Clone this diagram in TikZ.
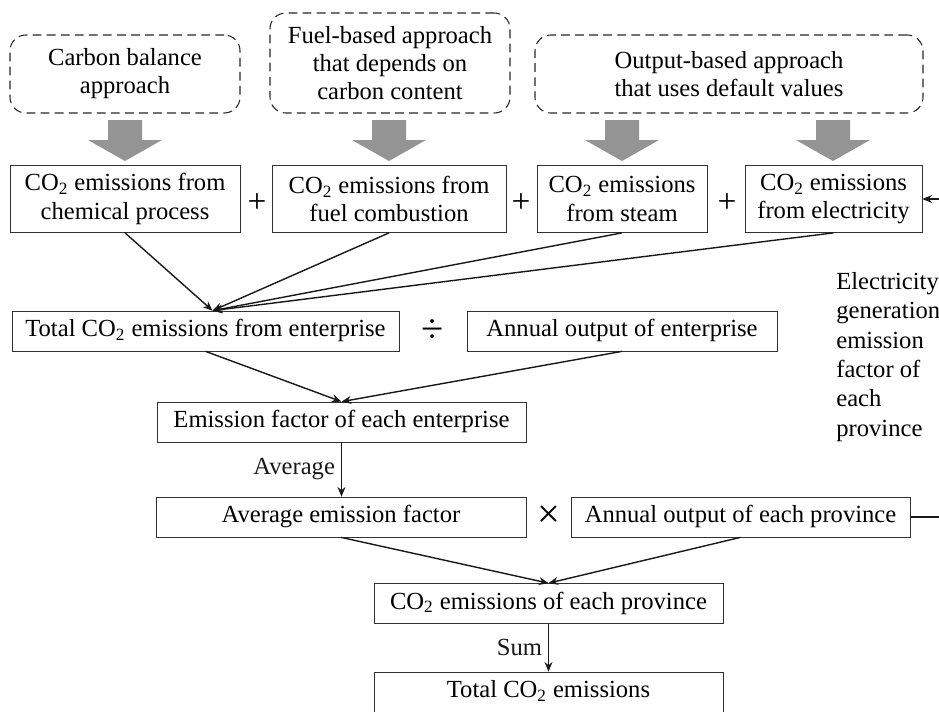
\documentclass[tikz,border=0pt]{standalone}
\usepackage{fontspec}
\setmainfont{Liberation Serif}
\usetikzlibrary{arrows.meta}

\newcommand\cotwo{CO\textsubscript{2}}
\newcommand\pxu{0.02cm}

\begin{document}
\begin{tikzpicture}[
    x=0.02cm, y=-0.02cm,
    every node/.style={font=\fontsize{14}{16}\selectfont},
    approach/.style={draw=black!85, dash pattern=on 5pt off 3pt, semithick,
        rounded corners=9pt, align=center, inner sep=0pt},
    calcbox/.style={draw=black!80, thin, align=center, inner sep=0pt},
    operator/.style={font=\fontsize{19}{19}\selectfont, inner sep=0pt},
    bigop/.style={font=\fontsize{23}{23}\selectfont, inner sep=0pt},
    link/.style={-{Stealth[length=5.5pt,width=4.5pt]}, line width=0.8pt, black!90},
    >=stealth
]
\useasboundingbox (0,0) rectangle (939,711);

% === Approaches (dashed) ===
\node[approach, minimum width=230*\pxu, minimum height=78*\pxu] (cbal) at (125,74)
    {Carbon balance\\approach};
\node[approach, minimum width=240*\pxu, minimum height=100*\pxu] (fuel) at (390,63)
    {Fuel-based approach\\that depends on\\carbon content};
\node[approach, minimum width=388*\pxu, minimum height=78*\pxu] (outp) at (729,74)
    {Output-based approach\\that uses default values};

% === Gray block arrows ===
\foreach \ax in {125,389,622,833} {
    \fill[black!42] (\ax-17,120) -- (\ax+17,120) -- (\ax+17,140) -- (\ax+37,140)
        -- (\ax,161) -- (\ax-37,140) -- (\ax-17,140) -- cycle;
}

% === Emission sources ===
\node[calcbox, minimum width=230*\pxu, minimum height=67*\pxu] (chem) at (125,199)
    {\cotwo{} emissions from\\chemical process};
\node[calcbox, minimum width=234*\pxu, minimum height=67*\pxu] (fuelc) at (389,199)
    {\cotwo{} emissions from\\fuel combustion};
\node[calcbox, minimum width=170*\pxu, minimum height=67*\pxu] (steam) at (622,199)
    {\cotwo{} emissions\\from steam};
\node[calcbox, minimum width=177*\pxu, minimum height=67*\pxu] (elec) at (833.5,199)
    {\cotwo{} emissions\\from electricity};
\node[operator] (plus1) at (257,203) {+};
\node[operator] (plus2) at (521,203) {+};
\node[operator] (plus3) at (727,203) {+};

% === Enterprise level ===
\node[calcbox, minimum width=387*\pxu, minimum height=40*\pxu] (total) at (205.5,331)
    {\strut Total \cotwo{} emissions from enterprise};
\node[bigop] (divop) at (433,331) {÷};
\node[calcbox, minimum width=310*\pxu, minimum height=40*\pxu] (annual) at (622,331)
    {\strut Annual output of enterprise};
\node[calcbox, minimum width=369*\pxu, minimum height=40*\pxu] (efac) at (341.5,422)
    {\strut Emission factor of each enterprise};

% === Province level ===
\node[calcbox, minimum width=370*\pxu, minimum height=40*\pxu] (avgf) at (341,517)
    {\strut Average emission factor};
\node[bigop] (mulop) at (549,517) {×};
\node[calcbox, minimum width=339*\pxu, minimum height=40*\pxu] (prov) at (740.5,517)
    {\strut Annual output of each province};
\node[calcbox, minimum width=349*\pxu, minimum height=40*\pxu] (provco) at (548.5,603.5)
    {\strut\cotwo{} emissions of each province};
\node[calcbox, minimum width=349*\pxu, minimum height=40*\pxu] (totalco) at (548.5,692)
    {\strut Total \cotwo{} emissions};

% Electricity factor note
\node[anchor=north west, align=left, inner sep=0pt,
      font=\fontsize{14}{16.7}\selectfont] (efnote) at (836,272)
    {Electricity\\generation\\emission\\factor of\\each\\province};

% === Connectors ===
\foreach \src in {chem,fuelc,steam,elec}
    \draw[link] (\src.south) -- ([xshift=4pt]total.north);
\draw[link] (total.south) -- (efac.north);
\draw[link] (annual.south) -- (efac.north);
\draw[link] (efac.south) -- node[left] {Average} (efac.south |- avgf.north);
\draw[link] (avgf.south) -- (provco.north);
\draw[link] (prov.south) -- (provco.north);
\draw[link] (provco.south) -- node[left] {Sum} (provco.south |- totalco.north);
\draw[link] (prov.east) -- ++(60,0) |- (elec.east);

\end{tikzpicture}
\end{document}
